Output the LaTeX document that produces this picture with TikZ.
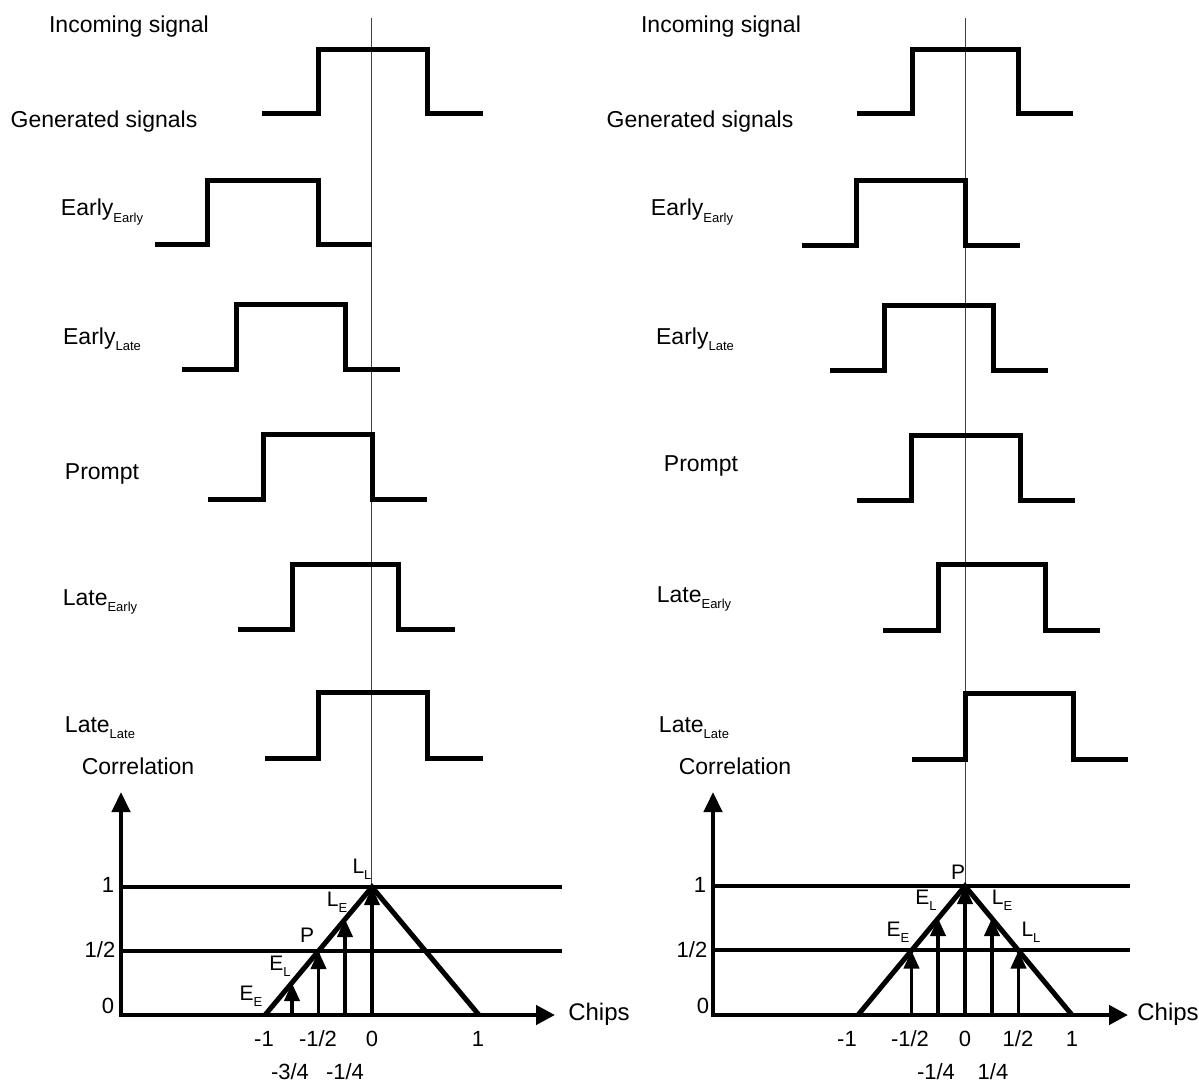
\documentclass[tikz,border=0pt]{standalone}
\usepackage{fontspec}
\setmainfont{Liberation Sans}
\usetikzlibrary{arrows.meta}
\newcommand\sbx[1]{\raisebox{-0.5ex}{\fontsize{6.5}{7}\selectfont #1}}
\newcommand\sbp[1]{\raisebox{-0.5ex}{\fontsize{6.5}{7}\selectfont #1}}
\newcommand\wvf[6]{\draw[wave] (#1,#5) -- (#2,#5) -- (#2,#6) -- (#3,#6) -- (#3,#5) -- (#4,#5);}
\begin{document}
\begin{tikzpicture}[x=0.5pt,y=-0.5pt,
  lbl/.style={font=\fontsize{11.5}{13}\selectfont, inner sep=0pt},
  tick/.style={font=\fontsize{11}{13}\selectfont, inner sep=0pt},
  pt/.style={font=\fontsize{10.5}{12}\selectfont, inner sep=0pt},
  wave/.style={line width=2.5pt, line join=miter},
  guide/.style={line width=0.5pt, black!75},
  axisline/.style={line width=2.2pt, line join=miter, {Triangle[width=9pt,length=10pt]}-{Triangle[width=9.5pt,length=9.5pt]}},
  level/.style={line width=2.1pt},
  tri/.style={line width=2.5pt, line join=miter},
  corr/.style={line width=1.9pt, -{Triangle[width=7.5pt,length=9pt]}}]
\useasboundingbox (0,0) rectangle (1199,1086);

% ---------------- LEFT PANEL ----------------
\draw[guide] (371,18) -- (371,1012);
\node[lbl] (inL) at (129,27) {Incoming signal};
\node[lbl] (genL) at (104,122) {Generated signals};
\node[lbl] (eeL) at (102,212) {Early\sbx{Early}};
\node[lbl] (elL) at (102,339) {Early\sbx{Late}};
\node[lbl] (prL) at (102,474) {Prompt};
\node[lbl] (leL) at (100,602) {Late\sbx{Early}};
\node[lbl] (llL) at (100,728) {Late\sbx{Late}};
\node[lbl] (coL) at (138,766) {Correlation};

\wvf{262}{318}{427}{483}{114}{50}
\wvf{155}{207}{318}{372}{244}{180}
\wvf{182}{236}{345}{400}{369}{304}
\wvf{208}{263}{372}{427}{499}{434}
\wvf{238}{292}{398}{455}{629}{564}
\wvf{265}{318}{427}{483}{758}{692}

\coordinate (oL) at (121,1015);
\coordinate (ytL) at (121,792);
\coordinate (xtL) at (555,1015);
\draw[axisline] (ytL) -- (oL) -- (xtL);
\coordinate (h1aL) at (121,887); \coordinate (h1bL) at (562,887);
\coordinate (h2aL) at (121,951); \coordinate (h2bL) at (562,951);
\draw[level] (h1aL) -- (h1bL);
\draw[level] (h2aL) -- (h2bL);
\coordinate (tmL) at (265,1015); \coordinate (tpL) at (372,887); \coordinate (tqL) at (479,1015);
\draw[tri] (tmL) -- (tpL) -- (tqL);
\coordinate (a1bL) at (292,1015);   \coordinate (a1tL) at (292,983);
\coordinate (a2bL) at (318.5,1015); \coordinate (a2tL) at (318.5,951);
\coordinate (a3bL) at (345,1015);   \coordinate (a3tL) at (345,919);
\coordinate (a4bL) at (372,1015);   \coordinate (a4tL) at (372,887);
\draw[corr] (a1bL) -- (a1tL);
\draw[corr] (a2bL) -- (a2tL);
\draw[corr] (a3bL) -- (a3tL);
\draw[corr] (a4bL) -- (a4tL);

\node[pt] (EEL) at (251,996) {E\sbp{E}};
\node[pt] (ELL) at (280,966) {E\sbp{L}};
\node[pt] (PL)  at (307,935) {P};
\node[pt] (LEL) at (337,902) {L\sbp{E}};
\node[pt] (LLL) at (362,869) {L\sbp{L}};

\node[tick] (y1L) at (108,885) {1};
\node[tick] (y2L) at (100,950) {1/2};
\node[tick] (y0L) at (108,1006) {0};
\node[tick] (cxL) at (599,1014) {\fontsize{12}{14}\selectfont Chips};
\node[tick] (t1L) at (264,1039) {-1};
\node[tick] (t2L) at (318,1039) {-1/2};
\node[tick] (t3L) at (372,1039) {0};
\node[tick] (t4L) at (478,1039) {1};
\node[tick] (t5L) at (290,1072) {-3/4};
\node[tick] (t6L) at (345,1072) {-1/4};

% ---------------- RIGHT PANEL ----------------
\draw[guide] (965,18) -- (965,1012);
\node[lbl] (inR) at (721,27) {Incoming signal};
\node[lbl] (genR) at (700,122) {Generated signals};
\node[lbl] (eeR) at (692,212) {Early\sbx{Early}};
\node[lbl] (elR) at (695,339) {Early\sbx{Late}};
\node[lbl] (prR) at (701,466) {Prompt};
\node[lbl] (leR) at (694,599) {Late\sbx{Early}};
\node[lbl] (llR) at (694,728) {Late\sbx{Late}};
\node[lbl] (coR) at (735,766) {Correlation};

\wvf{857}{912}{1018}{1073}{114}{50}
\wvf{802}{856}{965}{1020}{245}{180}
\wvf{830}{884}{993}{1048}{370}{305}
\wvf{857}{911}{1020}{1075}{500}{435}
\wvf{883}{938}{1045}{1100}{630}{564}
\wvf{912}{965}{1073}{1128}{759}{693}

\coordinate (oR) at (713,1015);
\coordinate (ytR) at (713,792);
\coordinate (xtR) at (1128,1015);
\draw[axisline] (ytR) -- (oR) -- (xtR);
\coordinate (h1aR) at (713,886); \coordinate (h1bR) at (1130,886);
\coordinate (h2aR) at (713,950); \coordinate (h2bR) at (1130,950);
\draw[level] (h1aR) -- (h1bR);
\draw[level] (h2aR) -- (h2bR);
\coordinate (tmR) at (858,1015); \coordinate (tpR) at (965,886); \coordinate (tqR) at (1072,1015);
\draw[tri] (tmR) -- (tpR) -- (tqR);
\coordinate (a1bR) at (911.5,1015); \coordinate (a1tR) at (911.5,950.5);
\coordinate (a2bR) at (938,1015);   \coordinate (a2tR) at (938,918);
\coordinate (a3bR) at (965,1015);   \coordinate (a3tR) at (965,886);
\coordinate (a4bR) at (992,1015);   \coordinate (a4tR) at (992,918);
\coordinate (a5bR) at (1018.5,1015);\coordinate (a5tR) at (1018.5,950.5);
\draw[corr] (a1bR) -- (a1tR);
\draw[corr] (a2bR) -- (a2tR);
\draw[corr] (a3bR) -- (a3tR);
\draw[corr] (a4bR) -- (a4tR);
\draw[corr] (a5bR) -- (a5tR);

\node[pt] (EER) at (898,932) {E\sbp{E}};
\node[pt] (ELR) at (926,900) {E\sbp{L}};
\node[pt] (PR)  at (958,872) {P};
\node[pt] (LER) at (1002,900) {L\sbp{E}};
\node[pt] (LLR) at (1031,932) {L\sbp{L}};

\node[tick] (y1R) at (700,885) {1};
\node[tick] (y2R) at (692,950) {1/2};
\node[tick] (y0R) at (703,1006) {0};
\node[tick] (cxR) at (1168,1014) {\fontsize{12}{14}\selectfont Chips};
\node[tick] (t1R) at (847,1039) {-1};
\node[tick] (t2R) at (910,1039) {-1/2};
\node[tick] (t3R) at (965,1039) {0};
\node[tick] (t4R) at (1018,1039) {1/2};
\node[tick] (t5R) at (1072,1039) {1};
\node[tick] (t6R) at (936,1072) {-1/4};
\node[tick] (t7R) at (993,1072) {1/4};
\end{tikzpicture}
\end{document}
